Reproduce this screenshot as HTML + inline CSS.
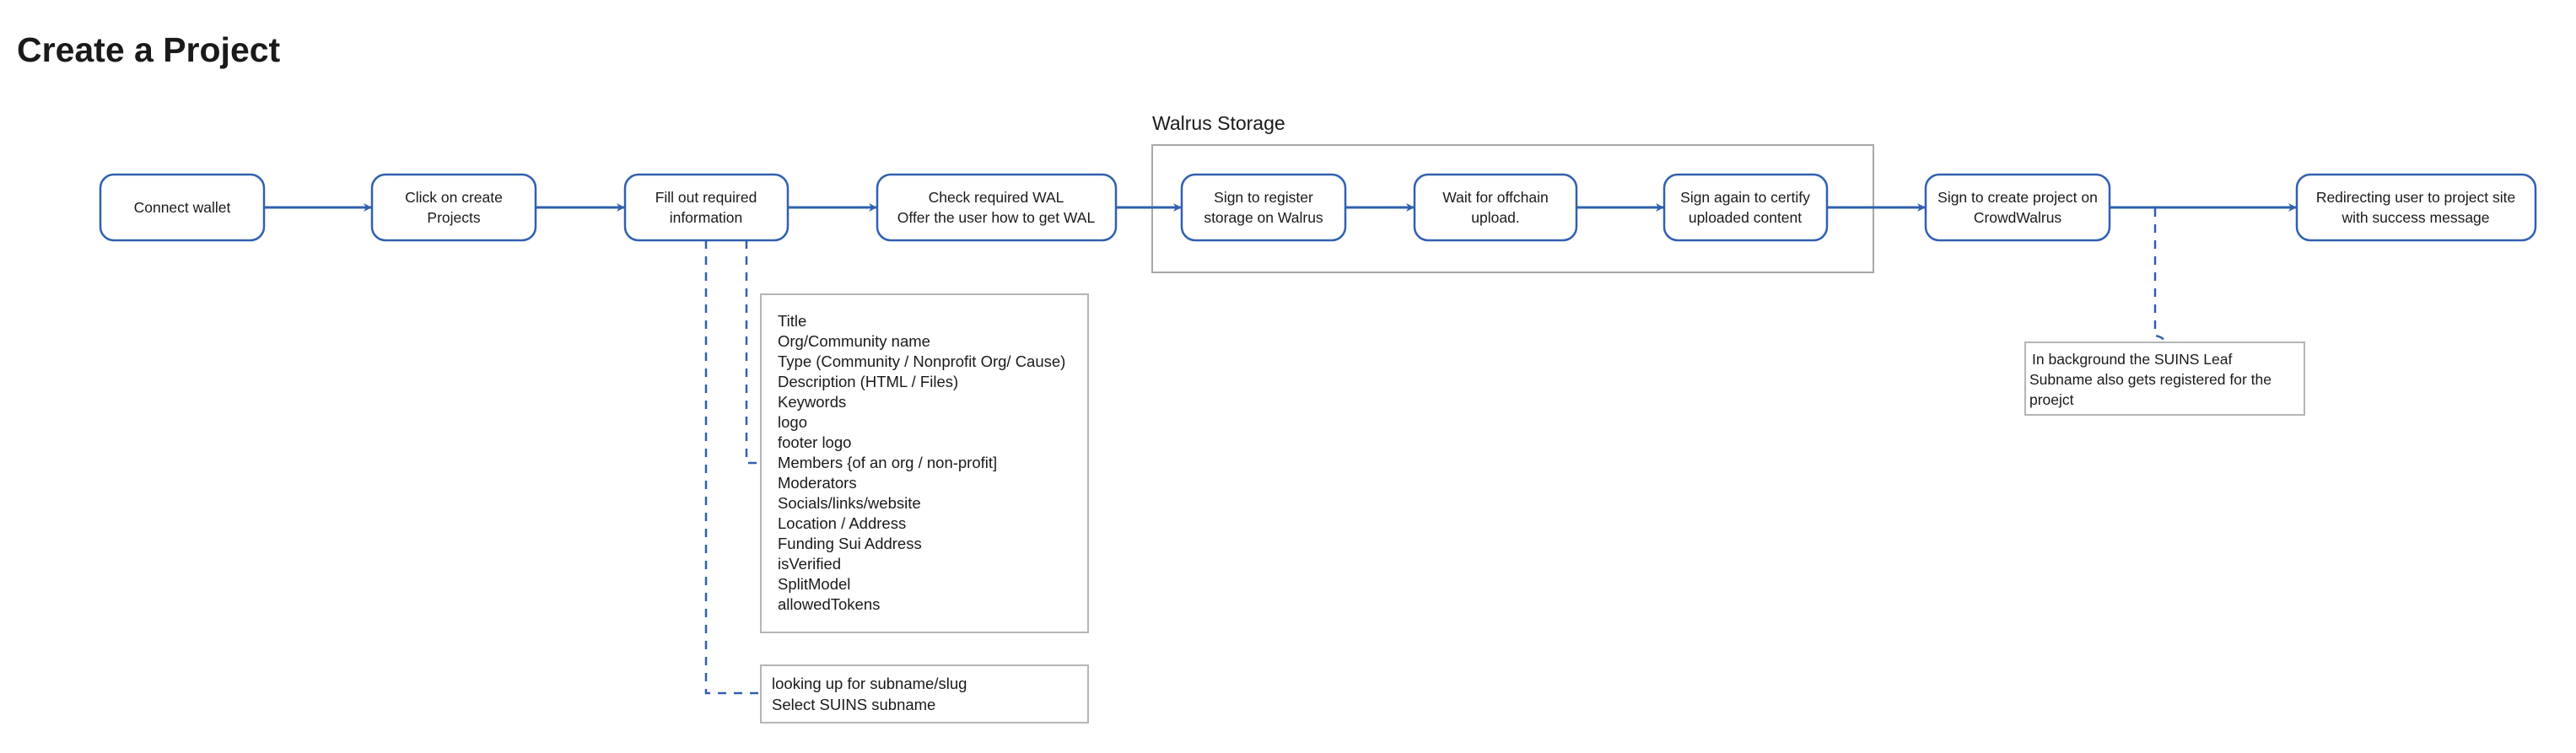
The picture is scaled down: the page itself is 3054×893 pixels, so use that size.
<!DOCTYPE html>
<html><head><meta charset="utf-8"><style>
html,body{margin:0;padding:0;background:#fff;}
svg{display:block}
text{font-family:"Liberation Sans","DejaVu Sans",sans-serif;fill:#1a1a1a}
</style></head><body>
<svg width="3054" height="893" viewBox="0 0 3054 893" xmlns="http://www.w3.org/2000/svg">
<defs>
<marker id="ah" markerWidth="10" markerHeight="10" refX="9" refY="5" orient="auto" markerUnits="userSpaceOnUse">
<path d="M0,0 L10,5 L0,10 L3,5 Z" fill="#3060b0"/>
</marker>
</defs>
<text x="20" y="73" font-size="41" font-weight="bold" fill="#1a1a1a">Create a Project</text>

<text x="1366" y="154" font-size="23">Walrus Storage</text>
<rect x="1366" y="172" width="855" height="151" fill="none" stroke="#a8a8a8" stroke-width="2"/>

<g fill="none" stroke="#3060b0" stroke-width="3">
<line x1="313" y1="246" x2="440" y2="246" marker-end="url(#ah)"/>
<line x1="636" y1="246" x2="740" y2="246" marker-end="url(#ah)"/>
<line x1="935" y1="246" x2="1039" y2="246" marker-end="url(#ah)"/>
<line x1="1324" y1="246" x2="1400" y2="246" marker-end="url(#ah)"/>
<line x1="1596" y1="246" x2="1676" y2="246" marker-end="url(#ah)"/>
<line x1="1870" y1="246" x2="1972" y2="246" marker-end="url(#ah)"/>
<line x1="2167" y1="246" x2="2282" y2="246" marker-end="url(#ah)"/>
<line x1="2502" y1="246" x2="2722" y2="246" marker-end="url(#ah)"/>
</g>
<g fill="none" stroke="#3060b0" stroke-width="2.5" stroke-dasharray="10,9">
<path d="M837,285 V822 H902"/>
<path d="M885,285 V549 H902"/>
<path d="M2555,247 V398 Q2566,400 2566,406"/>
</g>

<g fill="#fff" stroke="#3060b0" stroke-width="2.5">
<rect x="119" y="207" width="194" height="78" rx="16"/>
<rect x="441" y="207" width="194" height="78" rx="16"/>
<rect x="741" y="207" width="193" height="78" rx="16"/>
<rect x="1040" y="207" width="283" height="78" rx="16"/>
<rect x="1401" y="207" width="194" height="78" rx="16"/>
<rect x="1677" y="207" width="192" height="78" rx="16"/>
<rect x="1973" y="207" width="193" height="78" rx="16"/>
<rect x="2283" y="207" width="218" height="78" rx="16"/>
<rect x="2723" y="207" width="283" height="78" rx="16"/>
</g>
<g font-size="17.5" text-anchor="middle">
<text x="216" y="252">Connect wallet</text>
<text x="538" y="240">Click on create</text><text x="538" y="264">Projects</text>
<text x="837" y="240">Fill out required</text><text x="837" y="264">information</text>
<text x="1181" y="240">Check required WAL</text><text x="1181" y="264">Offer the user how to get WAL</text>
<text x="1498" y="240">Sign to register</text><text x="1498" y="264">storage on Walrus</text>
<text x="1773" y="240">Wait for offchain</text><text x="1773" y="264">upload.</text>
<text x="2069" y="240">Sign again to certify</text><text x="2069" y="264">uploaded content</text>
<text x="2392" y="240">Sign to create project on</text><text x="2392" y="264">CrowdWalrus</text>
<text x="2864" y="240">Redirecting user to project site</text><text x="2864" y="264">with success message</text>
</g>

<rect x="902" y="349" width="388" height="401" fill="#fff" stroke="#b5b5b5" stroke-width="2"/>
<g font-size="18.5">
<text x="922" y="387">Title</text>
<text x="922" y="411">Org/Community name</text>
<text x="922" y="435">Type (Community / Nonprofit Org/ Cause)</text>
<text x="922" y="459">Description (HTML / Files)</text>
<text x="922" y="483">Keywords</text>
<text x="922" y="507">logo</text>
<text x="922" y="531">footer logo</text>
<text x="922" y="555">Members {of an org / non-profit]</text>
<text x="922" y="579">Moderators</text>
<text x="922" y="603">Socials/links/website</text>
<text x="922" y="627">Location / Address</text>
<text x="922" y="651">Funding Sui Address</text>
<text x="922" y="675">isVerified</text>
<text x="922" y="699">SplitModel</text>
<text x="922" y="723">allowedTokens</text>
</g>
<rect x="902" y="789" width="388" height="68" fill="#fff" stroke="#b5b5b5" stroke-width="2"/>
<g font-size="18.5">
<text x="915" y="817">looking up for subname/slug</text>
<text x="915" y="842">Select SUINS subname</text>
</g>

<rect x="2401" y="406" width="331" height="86" fill="#fff" stroke="#b5b5b5" stroke-width="2"/>
<g font-size="17.5">
<text x="2409" y="432">In background the SUINS Leaf</text>
<text x="2406" y="456">Subname also gets registered for the</text>
<text x="2406" y="480">proejct</text>
</g>
</svg>
</body></html>
